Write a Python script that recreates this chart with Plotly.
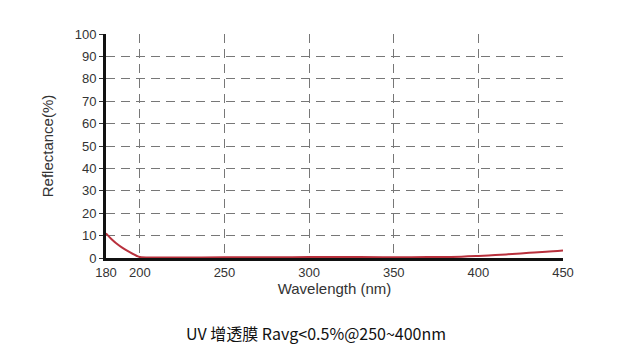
import plotly.graph_objects as go

wavelength = [180, 183, 186, 190, 194, 198, 200, 210, 230, 250, 280, 300, 330, 350, 370, 390, 400, 410, 420, 430, 440, 450]
reflectance = [11.0, 8.6, 6.6, 4.4, 2.6, 1.0, 0.4, 0.2, 0.2, 0.3, 0.35, 0.4, 0.4, 0.3, 0.4, 0.6, 0.9, 1.3, 1.8, 2.3, 2.8, 3.4]

x_ticks = [180, 200, 250, 300, 350, 400, 450]
y_ticks = list(range(0, 101, 10))
x_grid = [200, 250, 300, 350, 400]

fig = go.Figure()
fig.add_trace(go.Scatter(x=wavelength, y=reflectance, mode="lines",
                         line=dict(color="#b8303c", width=2, shape="spline"),
                         showlegend=False))
# invisible trace on overlay axis for vertical grid lines
fig.add_trace(go.Scatter(x=[180, 450], y=[0, 0], xaxis="x2", mode="lines",
                         line=dict(width=0), showlegend=False, hoverinfo="skip"))

tick_font = dict(family="Liberation Sans", size=13, color="#333333")
title_font = dict(family="Liberation Sans", size=15, color="#333333")
fig.update_layout(
    width=622, height=359,
    margin=dict(l=106, r=59, t=34, b=101),
    paper_bgcolor="white", plot_bgcolor="white",
    xaxis=dict(range=[180, 450], tickvals=x_ticks, showgrid=False,
               showline=True, linecolor="#111111", linewidth=3,
               ticks="", ticklabelstandoff=0,
               tickfont=tick_font, zeroline=False,
               title=dict(text="Wavelength (nm)", font=title_font, standoff=2)),
    xaxis2=dict(range=[180, 450], overlaying="x", tickvals=x_grid, showticklabels=False,
                showgrid=True, gridcolor="#777777", griddash="9px,6px", gridwidth=1.4,
                showline=False, zeroline=False),
    yaxis=dict(range=[0, 100], tickvals=y_ticks, showgrid=True,
               gridcolor="#777777", griddash="9px,6px", gridwidth=1.4,
               showline=True, linecolor="#111111", linewidth=3,
               ticks="outside", ticklen=4, tickcolor="#333333",
               tickfont=tick_font, zeroline=False,
               title=dict(text="Reflectance(%)", font=title_font, standoff=18)),
    annotations=[dict(text="UV 增透膜 Ravg<0.5%@250~400nm", xref="paper", yref="paper",
                      x=0.46, y=-0.335, showarrow=False, xanchor="center", yanchor="middle",
                      font=dict(family="Noto Sans CJK SC", size=16, color="#111111"))],
)

fig.write_html("out.html")
